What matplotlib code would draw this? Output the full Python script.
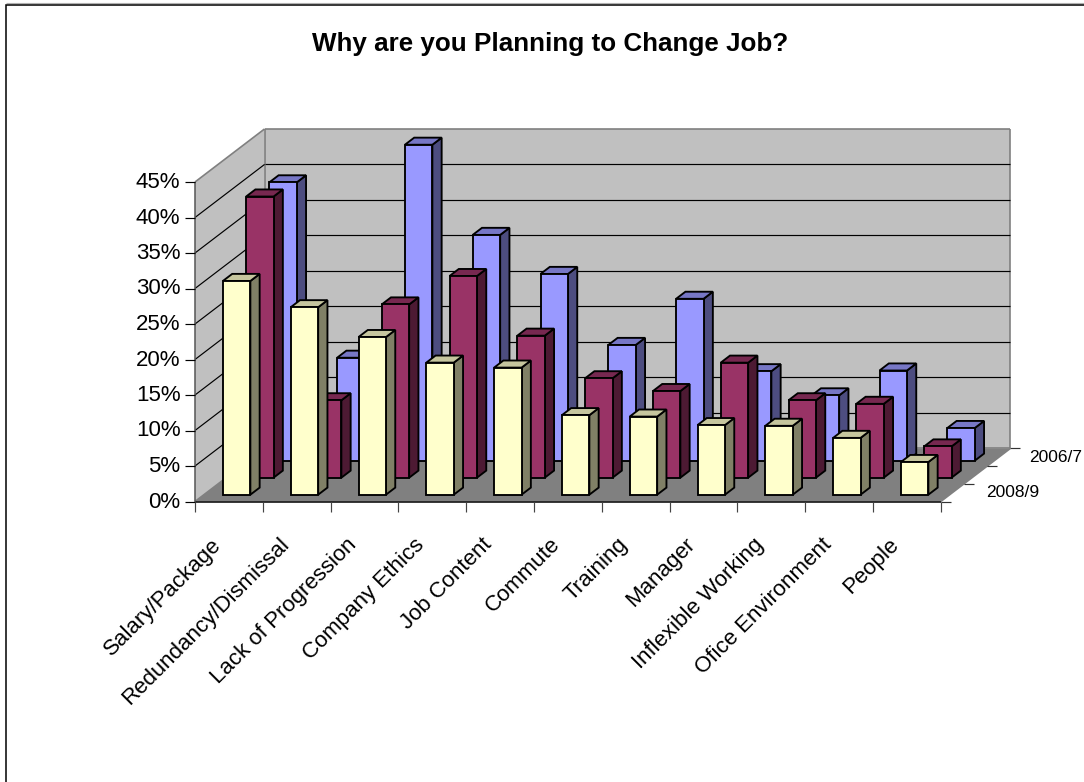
import matplotlib
matplotlib.use("Agg")
import matplotlib.pyplot as plt
from matplotlib.patches import Polygon, Rectangle

plt.rcParams['font.family'] = ['Liberation Sans', 'DejaVu Sans']

TITLE = "Why are you Planning to Change Job?"
categories = ["Salary/Package", "Redundancy/Dismissal", "Lack of Progression",
              "Company Ethics", "Job Content", "Commute", "Training", "Manager",
              "Inflexible Working", "Ofice Environment", "People"]
value_ticks = [0, 5, 10, 15, 20, 25, 30, 35, 40, 45]
depth_labels = ["2008/9", "", "2006/7"]

share_2008_9 = [30.1, 26.4, 22.2, 18.6, 17.9, 11.2, 11.0, 9.8, 9.7, 8.0, 4.6]
share_2007_8 = [39.6, 10.9, 24.4, 28.4, 20.0, 14.0, 12.2, 16.2, 10.9, 10.4, 4.4]
share_2006_7 = [39.2, 14.5, 44.5, 31.8, 26.3, 16.3, 22.8, 12.6, 9.2, 12.7, 4.6]

# Front to back: face, top, side colours
series = [
    (share_2008_9, "#FFFFCC", "#C6C69E", "#808066"),
    (share_2007_8, "#993366", "#772850", "#4D1A33"),
    (share_2006_7, "#9999FF", "#7777C6", "#4D4D80"),
]

# Oblique projection of the plot box onto the canvas
X0, Y0 = 195.0, 501.5
CAT_W = 67.8
UNIT_H = 7.1
DEPTH_DX, DEPTH_DY = 23.2, -17.7
BAR_START, BAR_WIDTH = 0.28, 0.405
DEPTH_START, BAR_DEPTH = 0.385, 0.40
ROW_DROP = 0.7
N_CAT, N_DEPTH, V_MAX = len(categories), len(series), value_ticks[-1]


def project(cat, depth, val):
    return (X0 + cat * CAT_W + depth * DEPTH_DX,
            Y0 + depth * DEPTH_DY - val * UNIT_H)


def face(ax, corners, color, edge="black", lw=1.35, z=2, drop=0.0):
    points = [project(*c) for c in corners]
    points = [(x, y + drop) for x, y in points]
    ax.add_patch(Polygon(points, closed=True, facecolor=color, edgecolor=edge,
                         linewidth=lw, joinstyle="miter", zorder=z))


def line(ax, a, b, color="black", lw=0.85, z=1):
    ax.plot(*zip(a, b), color=color, lw=lw, solid_capstyle="butt", zorder=z)


fig = plt.figure(figsize=(10.84, 7.82), dpi=100, facecolor="white")
ax = fig.add_axes([0, 0, 1, 1])
ax.set_xlim(0, 1084)
ax.set_ylim(782, 0)
ax.axis("off")

# Chart frame: runs off the canvas on the right and at the bottom
line(ax, (6, 3), (1084, 3), color="#B0B0B0", lw=0.8, z=0.1)
ax.add_patch(Rectangle((6, 4.5), 1090, 790, facecolor="white", edgecolor="black", lw=1.1, zorder=0.2))

# Walls and floor
C, D, V = N_CAT, N_DEPTH, V_MAX
face(ax, [(0, 0, 0), (0, D, 0), (0, D, V), (0, 0, V)], "#C0C0C0", edge="none", lw=0, z=0.5)
face(ax, [(0, D, 0), (C, D, 0), (C, D, V), (0, D, V)], "#C0C0C0", edge="none", lw=0, z=0.5)
face(ax, [(0, 0, 0), (C, 0, 0), (C, D, 0), (0, D, 0)], "#808080", edge="none", lw=0, z=0.6)

for v in value_ticks[1:-1]:
    line(ax, project(0, 0, v), project(0, D, v))
    line(ax, project(0, D, v), project(C, D, v))
for a, b in [((0, 0, V), (0, D, V)), ((0, D, V), (C, D, V)), ((0, D, 0), (0, D, V)),
             ((C, D, 0), (C, D, V)), ((0, 0, 0), (0, D, 0)), ((C, 0, 0), (C, D, 0)),
             ((0, D, 0), (C, D, 0))]:
    line(ax, project(*a), project(*b), color="#808080", lw=1.2, z=0.8)

# Bars, painted from the back row forward
for s in range(N_DEPTH - 1, -1, -1):
    values, col_face, col_top, col_side = series[s]
    layer = 2 + (N_DEPTH - 1 - s)
    drop = s * ROW_DROP
    for i, v in enumerate(values):
        x1, x2 = i + BAR_START, i + BAR_START + BAR_WIDTH
        d1, d2 = s + DEPTH_START, s + DEPTH_START + BAR_DEPTH
        face(ax, [(x2, d1, 0), (x2, d2, 0), (x2, d2, v), (x2, d1, v)], col_side, z=layer, drop=drop)
        face(ax, [(x1, d1, v), (x2, d1, v), (x2, d2, v), (x1, d2, v)], col_top, z=layer, drop=drop)
        face(ax, [(x1, d1, 0), (x2, d1, 0), (x2, d1, v), (x1, d1, v)], col_face, z=layer, drop=drop)

# Axis lines, ticks and labels
line(ax, project(0, 0, 0), project(C, 0, 0), lw=1.1, z=6)
line(ax, project(0, 0, 0), project(0, 0, V), color="#555555", lw=1.1, z=6)

for v in value_ticks:
    x, y = project(0, 0, v)
    line(ax, (x - 10, y), (x, y), z=6)
    ax.text(x - 14.5, y + 0.5, f"{v}%", ha="right", va="center", fontsize=16, color="black")

for i in range(C + 1):
    x, y = project(i, 0, 0)
    line(ax, (x, y), (x, y + 10), color="#444444", z=6)

for i, name in enumerate(categories):
    x, y = project(i + 0.5, 0, 0)
    ax.text(x - 11, y + 40, name, rotation=45, rotation_mode="anchor", ha="right", va="center",
            fontsize=16, color="black")

for d in range(D + 1):
    x, y = project(C, d, 0)
    line(ax, (x, y), (x + 10, y), color="#333333", z=6)

# The two labelled rows of the depth axis sit at different distances from the floor edge
depth_offsets = [34, 0, 30]
for d, name in enumerate(depth_labels):
    if name:
        x, y = project(C, d + 0.5, 0)
        ax.text(x + depth_offsets[d], y, name, ha="left", va="center", fontsize=12.5, color="black")

ax.text(550, 44, TITLE, ha="center", va="center", fontsize=18.75, fontweight="bold", color="black")

fig.savefig("out.png", dpi=100)
